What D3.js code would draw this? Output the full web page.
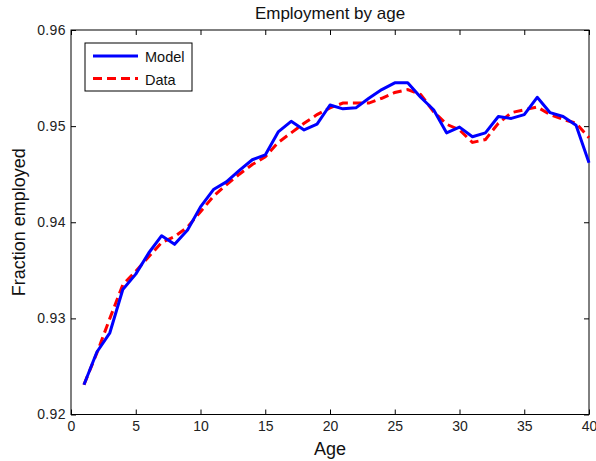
<!DOCTYPE html>
<html>
<head>
<meta charset="utf-8">
<script src="https://cdn.jsdelivr.net/npm/d3@7/dist/d3.min.js"></script>
<style>
  html, body { margin: 0; padding: 0; background: #fff; }
  svg { display: block; font-family: "Liberation Sans", Arial, sans-serif; }
</style>
</head>
<body>
<svg id="chart" width="596" height="461"></svg>
<script>
// Employment rate by age: model vs. data
const ages = d3.range(1, 41);
const modelValues = [
  0.9231, 0.9265, 0.9285, 0.9330, 0.9346, 0.9368, 0.9386, 0.9377, 0.9392, 0.9416,
  0.9434, 0.9442, 0.9454, 0.9465, 0.9470, 0.9494, 0.9505, 0.9496, 0.9502, 0.9522,
  0.9518, 0.9519, 0.9529, 0.9538, 0.9545, 0.9545, 0.9530, 0.9517, 0.9493, 0.9499,
  0.9489, 0.9493, 0.9510, 0.9508, 0.9512, 0.9530, 0.9514, 0.9510, 0.9501, 0.9462
];
const dataValues = [
  0.9231, 0.9264, 0.9300, 0.9335, 0.9349, 0.9364, 0.9379, 0.9385, 0.9395, 0.9411,
  0.9427, 0.9439, 0.9450, 0.9460, 0.9468, 0.9483, 0.9493, 0.9503, 0.9512, 0.9519,
  0.9524, 0.9524, 0.9524, 0.9529, 0.9535, 0.9538, 0.9533, 0.9515, 0.9502, 0.9496,
  0.9483, 0.9486, 0.9503, 0.9514, 0.9517, 0.9520, 0.9512, 0.9507, 0.9503, 0.9488
];
const xTicks = [0, 5, 10, 15, 20, 25, 30, 35, 40];
const yTicks = [0.92, 0.93, 0.94, 0.95, 0.96];
const seriesNames = ["Model", "Data"];

const svg = d3.select("#chart");
const m = { left: 71, right: 589, top: 30, bottom: 414.5 };

const x = d3.scaleLinear().domain([0, 40]).range([m.left, m.right]);
const y = d3.scaleLinear().domain([0.92, 0.96]).range([m.bottom, m.top]);

// Axes box with inward ticks on all four sides
const tickLen = 5;
const axisStyle = spacing => g => {
  g.selectAll(".domain").remove();
  g.selectAll(".tick line").attr("stroke", "#000");
  g.selectAll(".tick text").attr("fill", "#222").attr("font-size", 14)
    .attr("letter-spacing", spacing);
};

svg.append("g")
  .attr("transform", `translate(0,${m.bottom})`)
  .call(d3.axisBottom(x).tickValues(xTicks).tickFormat(d3.format("d"))
        .tickSizeInner(-tickLen).tickSizeOuter(0).tickPadding(7))
  .call(axisStyle(0));

svg.append("g")
  .attr("transform", `translate(0,${m.top})`)
  .call(d3.axisTop(x).tickValues(xTicks).tickFormat("")
        .tickSizeInner(-tickLen).tickSizeOuter(0))
  .call(axisStyle(0));

svg.append("g")
  .attr("transform", `translate(${m.left},0)`)
  .call(d3.axisLeft(y).tickValues(yTicks).tickFormat(d3.format(".2f"))
        .tickSizeInner(-tickLen).tickSizeOuter(0).tickPadding(5))
  .call(axisStyle(0.4));

svg.append("g")
  .attr("transform", `translate(${m.right},0)`)
  .call(d3.axisRight(y).tickValues(yTicks).tickFormat("")
        .tickSizeInner(-tickLen).tickSizeOuter(0))
  .call(axisStyle(0));

svg.append("rect")
  .attr("x", m.left).attr("y", m.top)
  .attr("width", m.right - m.left).attr("height", m.bottom - m.top)
  .attr("fill", "none").attr("stroke", "#000").attr("stroke-width", 1);

// Lines
const line = d3.line().x((d, i) => x(ages[i])).y(d => y(d));

svg.append("path")
  .datum(dataValues)
  .attr("d", line)
  .attr("fill", "none")
  .attr("stroke", "#ff0000")
  .attr("stroke-width", 3)
  .attr("stroke-dasharray", "9,5");

svg.append("path")
  .datum(modelValues)
  .attr("d", line)
  .attr("fill", "none")
  .attr("stroke", "#0000ff")
  .attr("stroke-width", 3)
  .attr("stroke-linejoin", "round");

// Title and axis labels
svg.append("text")
  .attr("x", (m.left + m.right) / 2).attr("y", 19)
  .attr("text-anchor", "middle")
  .attr("font-size", 17).attr("fill", "#111")
  .text("Employment by age");

svg.append("text")
  .attr("x", (m.left + m.right) / 2).attr("y", 455)
  .attr("text-anchor", "middle")
  .attr("font-size", 18).attr("fill", "#111")
  .text("Age");

svg.append("text")
  .attr("transform", `translate(25,${(m.top + m.bottom) / 2}) rotate(-90)`)
  .attr("text-anchor", "middle")
  .attr("font-size", 18).attr("fill", "#111")
  .text("Fraction employed");

// Legend
const leg = svg.append("g");
leg.append("rect")
  .attr("x", 85).attr("y", 43).attr("width", 107).attr("height", 48)
  .attr("fill", "#fff").attr("stroke", "#000").attr("stroke-width", 1);
const legStyles = [
  { color: "#0000ff", dash: null },
  { color: "#ff0000", dash: "9,5" }
];
seriesNames.forEach((name, i) => {
  const yy = 56 + i * 22.5;
  leg.append("line")
    .attr("x1", 93).attr("x2", 138).attr("y1", yy).attr("y2", yy)
    .attr("stroke", legStyles[i].color).attr("stroke-width", 3)
    .attr("stroke-dasharray", legStyles[i].dash);
  leg.append("text")
    .attr("x", 145).attr("y", yy + 6)
    .attr("font-size", 14.5).attr("fill", "#111")
    .text(name);
});
</script>
</body>
</html>
